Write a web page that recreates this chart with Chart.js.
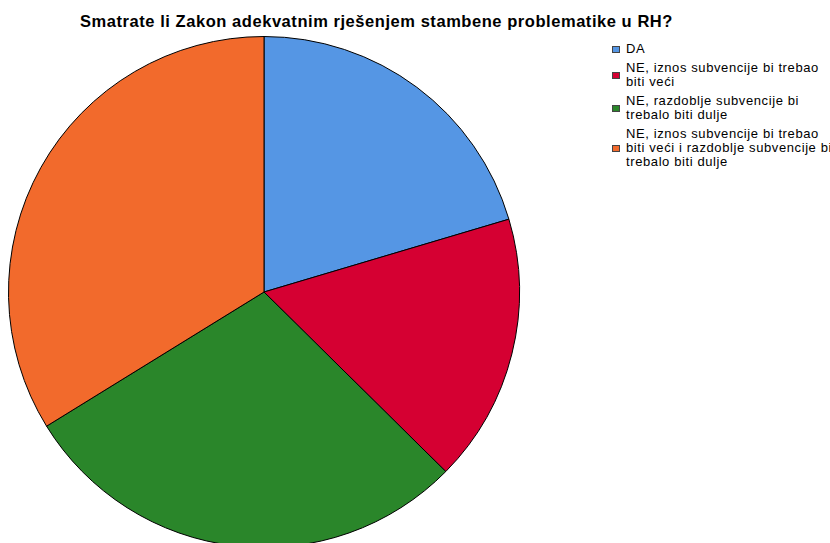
<!DOCTYPE html>
<html>
<head>
<meta charset="utf-8">
<script src="https://cdn.jsdelivr.net/npm/chart.js@4/dist/chart.umd.min.js"></script>
<style>
html,body{margin:0;padding:0;background:#fff;overflow:hidden;width:830px;height:543px;}
#wrap{position:absolute;left:0;top:0;width:528px;height:584px;}
#title{position:absolute;left:0;top:12px;width:753px;text-align:center;font:bold 16.5px "Liberation Sans",Arial,sans-serif;letter-spacing:0.55px;color:#000;white-space:nowrap;}
#legend{position:absolute;left:612px;top:42px;font:13px "Liberation Sans",Arial,sans-serif;letter-spacing:0.6px;color:#000;white-space:nowrap;}
.item{display:flex;align-items:center;margin-bottom:5px;line-height:14px;}
.box{width:6px;height:5px;border:1px solid #444;margin-right:6px;flex:none;}
</style>
</head>
<body>
<div id="title"></div>
<div id="wrap"><canvas id="c"></canvas></div>
<div id="legend"></div>
<script>
const titleText = "Smatrate li Zakon adekvatnim rješenjem stambene problematike u RH?";
const categories = [
  ["DA"],
  ["NE, iznos subvencije bi trebao", "biti veći"],
  ["NE, razdoblje subvencije bi", "trebalo biti dulje"],
  ["NE, iznos subvencije bi trebao", "biti veći i razdoblje subvencije bi", "trebalo biti dulje"]
];
const values = [20.4, 17.0, 28.8, 33.8];
const colors = ["#5596E4", "#D50032", "#2A862A", "#F26A2C"];

document.getElementById('title').textContent = titleText;
const leg = document.getElementById('legend');
categories.forEach((lines, i) => {
  const it = document.createElement('div'); it.className = 'item';
  const b = document.createElement('div'); b.className = 'box'; b.style.background = colors[i];
  const t = document.createElement('div');
  lines.forEach((l, j) => { if (j) t.appendChild(document.createElement('br')); t.appendChild(document.createTextNode(l)); });
  it.appendChild(b); it.appendChild(t); leg.appendChild(it);
});

new Chart(document.getElementById('c'), {
  type: 'pie',
  data: {
    labels: categories.map(c => c.join(' ')),
    datasets: [{
      data: values,
      backgroundColor: colors,
      borderColor: '#000',
      borderWidth: 1,
      hoverOffset: 0
    }]
  },
  options: {
    responsive: true,
    maintainAspectRatio: false,
    animation: false,
    layout: { padding: { top: 36, bottom: 36, left: 8, right: 8 } },
    plugins: { legend: { display: false }, title: { display: false }, tooltip: { enabled: false } }
  }
});
</script>
</body>
</html>
